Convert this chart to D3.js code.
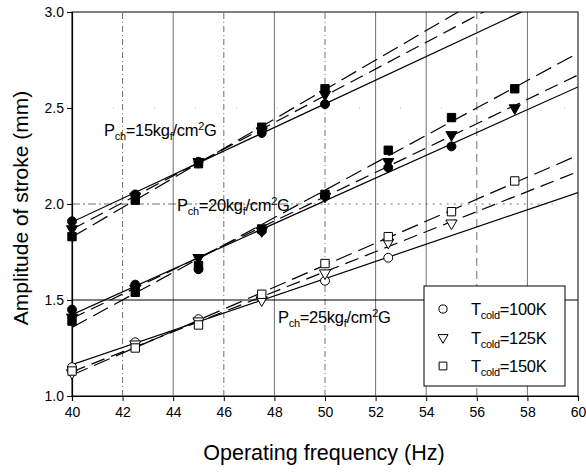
<!DOCTYPE html>
<html>
<head>
<meta charset="utf-8">
<script src="https://cdn.jsdelivr.net/npm/d3@7"></script>
<style>
  body { margin: 0; background: #fff; }
  svg text { font-family: "Liberation Sans", Arial, sans-serif; fill: #000; }
</style>
</head>
<body>
<svg id="chart"></svg>
<script>
// frequencies (Hz)
const freq = [40, 42.5, 45, 47.5, 50, 52.5, 55, 57.5];

// amplitudes (mm), P_ch = 15 kgf/cm2G
const p15_t100 = [1.91, 2.05, 2.22, 2.37, 2.52];
const p15_t125 = [1.87, 2.04, 2.22, 2.38, 2.57];
const p15_t150 = [1.83, 2.02, 2.21, 2.40, 2.60];

// P_ch = 20
const p20_t100 = [1.45, 1.58, 1.66, 1.86, 2.04, 2.19, 2.30];
const p20_t125 = [1.41, 1.56, 1.72, 1.86, 2.04, 2.22, 2.36, 2.50];
const p20_t150 = [1.39, 1.54, 1.68, 1.87, 2.05, 2.28, 2.45, 2.60];

// P_ch = 25
const p25_t100 = [1.15, 1.28, 1.40, 1.51, 1.60, 1.72];
const p25_t125 = [1.12, 1.27, 1.39, 1.50, 1.64, 1.80, 1.90];
const p25_t150 = [1.13, 1.25, 1.37, 1.53, 1.69, 1.83, 1.96, 2.12];

const xTicks = [40, 42, 44, 46, 48, 50, 52, 54, 56, 58, 60];
const yTicks = [1.0, 1.5, 2.0, 2.5, 3.0];
const legendLabels = ["=100K", "=125K", "=150K"];

const width = 586, height = 472;
const margin = {top: 12, right: 8, bottom: 76, left: 72};

const svg = d3.select("#chart").attr("width", width).attr("height", height);

const x = d3.scaleLinear().domain([40, 60]).range([margin.left, width - margin.right]);
const y = d3.scaleLinear().domain([1.0, 3.0]).range([height - margin.bottom, margin.top]);

svg.append("defs").append("clipPath").attr("id", "plot")
  .append("rect")
  .attr("x", margin.left).attr("y", margin.top)
  .attr("width", x(60) - x(40)).attr("height", y(1) - y(3));

// grid lines, mixed styles like the scan
const vStyle = {42: "6,3,1,3", 44: null, 46: "6,3,1,3", 48: null, 50: "6,3,1,3",
                52: null, 54: null, 56: "8,5", 58: null};
const grid = svg.append("g").attr("stroke", "#333").attr("stroke-width", 0.7);
xTicks.filter(d => d > 40 && d < 60).forEach(d => {
  grid.append("line")
    .attr("x1", x(d)).attr("x2", x(d))
    .attr("y1", y(1)).attr("y2", y(3))
    .attr("stroke-dasharray", vStyle[d]);
});
grid.append("line")
  .attr("x1", x(40)).attr("x2", x(49))
  .attr("y1", y(2)).attr("y2", y(2))
  .attr("stroke-dasharray", "8,3,2,3");
grid.append("line")
  .attr("x1", x(49)).attr("x2", x(59))
  .attr("y1", y(2)).attr("y2", y(2))
  .attr("stroke-dasharray", "2,5");
grid.append("line")
  .attr("x1", x(40)).attr("x2", x(60))
  .attr("y1", y(1.5)).attr("y2", y(1.5))
  .attr("stroke", "#000").attr("stroke-width", 1);
grid.append("line")
  .attr("x1", x(40)).attr("x2", x(60))
  .attr("y1", y(2.5)).attr("y2", y(2.5))
  .attr("stroke", "#999").attr("stroke-dasharray", "1,40");

// frame
svg.append("rect")
  .attr("x", x(40)).attr("y", y(3))
  .attr("width", x(60) - x(40)).attr("height", y(1) - y(3))
  .attr("fill", "none").attr("stroke", "#000").attr("stroke-width", 1);

// axes
const xAxis = svg.append("g")
  .attr("transform", `translate(0,${y(1)})`)
  .call(d3.axisBottom(x).tickValues(xTicks).tickSize(5).tickPadding(6).tickFormat(d3.format("d")));
const yAxis = svg.append("g")
  .attr("transform", `translate(${x(40)},0)`)
  .call(d3.axisLeft(y).tickValues(yTicks).tickSize(5).tickPadding(3).tickFormat(d3.format(".1f")));
[xAxis, yAxis].forEach(a => {
  a.select(".domain").attr("stroke-width", 1.2);
  a.selectAll("text").style("font-size", "14px").style("font-family", "Liberation Sans, Arial, sans-serif");
});

// series
const groups = [
  {filled: true,  sets: [p15_t100, p15_t125, p15_t150]},
  {filled: true,  sets: [p20_t100, p20_t125, p20_t150]},
  {filled: false, sets: [p25_t100, p25_t125, p25_t150]}
];
const shapes = [d3.symbolCircle, d3.symbolTriangle, d3.symbolSquare];
const shapeSize = [62, 54, 70];
const dashes = [null, "14,7", "17,7"];

function fit(vals) {
  const xs = freq.slice(0, vals.length);
  const mx = d3.mean(xs), my = d3.mean(vals);
  const b = d3.sum(xs, (xi, i) => (xi - mx) * (vals[i] - my)) / d3.sum(xs, xi => (xi - mx) ** 2);
  return {a: my - b * mx, b};
}

const lines = svg.append("g").attr("clip-path", "url(#plot)");
groups.forEach(g => {
  g.sets.forEach((vals, k) => {
    const f = fit(vals);
    lines.append("line")
      .attr("x1", x(40)).attr("y1", y(f.a + f.b * 40))
      .attr("x2", x(60)).attr("y2", y(f.a + f.b * 60))
      .attr("stroke", "#000").attr("stroke-width", 1.2)
      .attr("stroke-dasharray", dashes[k]);
  });
});

const marks = svg.append("g");
groups.forEach(g => {
  g.sets.forEach((vals, k) => {
    marks.selectAll(null)
      .data(vals)
      .join("path")
      .attr("d", d3.symbol(shapes[k], shapeSize[k]))
      .attr("transform", (d, i) => `translate(${x(freq[i])},${y(d)})` + (k === 1 ? " rotate(180)" : ""))
      .attr("fill", g.filled ? "#000" : "#fff")
      .attr("stroke", "#000").attr("stroke-width", 1);
  });
});

// pressure labels
function pLabel(px, py, val) {
  const t = svg.append("text").attr("x", px).attr("y", py)
    .style("font-size", "16.5px").style("letter-spacing", "-0.3px");
  t.append("tspan").text("P");
  t.append("tspan").attr("dy", 4).style("font-size", "11px").text("ch");
  t.append("tspan").attr("dy", -4).text(`=${val}kg`);
  t.append("tspan").attr("dy", 4).style("font-size", "11px").text("f");
  t.append("tspan").attr("dy", -4).text("/cm");
  t.append("tspan").attr("dy", -6).style("font-size", "11px").text("2");
  t.append("tspan").attr("dy", 6).text("G");
}
pLabel(104, 136, 15);
pLabel(177, 211, 20);
pLabel(278, 323, 25);

// legend
const lg = svg.append("g");
lg.append("rect")
  .attr("x", 424).attr("y", 286).attr("width", 141).attr("height", 100)
  .attr("fill", "#fff").attr("stroke", "#000").attr("stroke-width", 1);
legendLabels.forEach((lab, k) => {
  const cy = 309 + k * 28.5;
  lg.append("path")
    .attr("d", d3.symbol(shapes[k], shapeSize[k] - 10))
    .attr("transform", `translate(443,${cy})` + (k === 1 ? " rotate(180)" : ""))
    .attr("fill", "#fff").attr("stroke", "#000").attr("stroke-width", 1);
  const t = lg.append("text").attr("x", 471).attr("y", cy + 6)
    .style("font-size", "16.5px").style("letter-spacing", "-0.3px");
  t.append("tspan").text("T");
  t.append("tspan").attr("dy", 4).style("font-size", "11px").text("cold");
  t.append("tspan").attr("dy", -4).text(lab);
});

// axis titles
svg.append("text")
  .attr("x", 324).attr("y", 460)
  .attr("text-anchor", "middle")
  .style("font-size", "21.5px")
  .text("Operating frequency (Hz)");
svg.append("text")
  .attr("transform", `translate(28,${(y(1) + y(3)) / 2 + 4}) rotate(-90)`)
  .attr("text-anchor", "middle")
  .style("font-size", "21px")
  .text("Amplitude of stroke (mm)");
</script>
</body>
</html>
